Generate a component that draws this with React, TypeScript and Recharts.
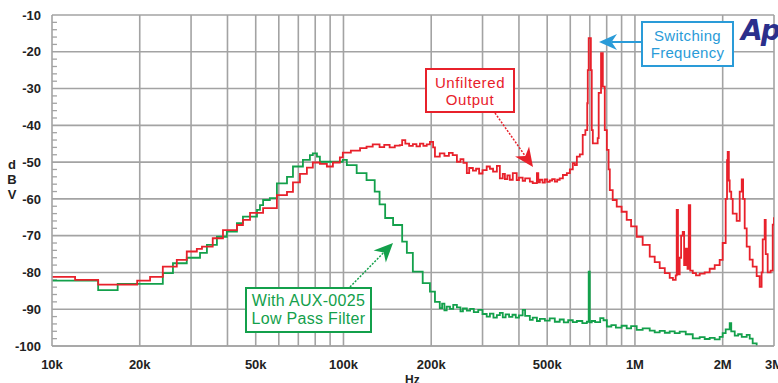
import React from 'react'
import { LineChart, Line, XAxis, YAxis, CartesianGrid, ReferenceLine } from 'recharts'

// frequencies in kHz, levels in dBV
const redFreq = [
  10, 12, 14.4, 19.6, 21.7, 24, 26.8, 29, 31.4, 32.7, 35.6, 38.6, 43.1, 45.2, 47.8, 53, 59.1, 64, 67.1, 70.9,
  74.9, 78.5, 83, 87.7, 92, 97.2, 99.5, 106, 114, 120, 126, 133, 138, 144, 150, 156, 159, 163, 168, 173,
  178, 183, 188, 193, 198, 203, 206, 214, 222, 230, 237, 245, 252, 258, 265, 270, 278, 285, 292, 300,
  310, 318, 326, 336, 344, 352, 358, 365, 372, 381, 393, 400, 412, 420, 436, 446, 461, 466, 472, 482,
  491, 500, 510, 520, 531, 541, 552, 566, 584, 598, 612, 622, 632, 647, 662, 676, 686, 689, 694, 706,
  711, 717, 740, 745, 751, 765, 776, 788, 801, 812, 820, 839, 866, 900, 937, 970, 1014, 1063, 1124, 1169,
  1216, 1266, 1316, 1350, 1380, 1391, 1405, 1424, 1440, 1459, 1475, 1494, 1515, 1530, 1548, 1579, 1620, 1668, 1735, 1805,
  1878, 1953, 2000, 2048, 2070, 2081, 2100, 2114, 2140, 2165, 2234, 2288, 2325, 2350, 2380, 2418, 2476, 2535, 2616, 2679,
  2720, 2744, 2787, 2810, 2854, 2920, 2970, 3000,
]
const redDb = [
  -81.2, -82.0, -83.3, -82.2, -81.2, -78.4, -76.6, -74.3, -73.6, -73.0, -70.7, -68.5, -67.1, -65.7, -63.8, -62.5, -59.0, -58.1, -55.5, -53.2,
  -51.5, -50.1, -50.5, -51.2, -50.1, -48.7, -47.4, -46.9, -46.2, -45.8, -45.2, -45.9, -45.3, -46.0, -45.5, -45.4, -44.0, -45.0, -45.6, -45.1,
  -45.7, -45.0, -45.6, -45.2, -44.5, -46.0, -48.5, -47.6, -48.3, -47.5, -48.1, -49.9, -49.2, -50.2, -53.0, -51.6, -52.3, -51.8, -53.1, -52.2,
  -51.2, -51.8, -52.6, -51.0, -54.4, -53.2, -54.6, -53.6, -54.8, -53.0, -54.9, -54.2, -55.1, -54.4, -55.3, -55.7, -53.0, -55.5, -54.8, -55.6,
  -54.7, -55.4, -55.0, -54.6, -55.3, -54.8, -54.4, -53.5, -53.0, -52.0, -50.3, -50.8, -48.5, -47.9, -42.6, -41.3, -34.0, -25.0, -16.3, -25.0,
  -41.3, -44.9, -44.9, -43.5, -31.2, -20.4, -29.5, -41.3, -46.7, -52.0, -57.6, -60.3, -62.1, -63.5, -65.7, -67.5, -70.3, -72.5, -75.7, -77.2,
  -78.8, -80.2, -81.5, -82.0, -80.8, -63.0, -80.5, -76.0, -70.0, -69.0, -78.0, -73.5, -79.0, -61.7, -79.5, -80.2, -80.8, -80.3, -80.0, -79.0,
  -78.0, -76.6, -72.0, -60.0, -49.5, -47.2, -55.0, -58.0, -60.0, -64.0, -66.0, -58.0, -54.7, -60.0, -68.0, -73.0, -76.5, -78.4, -81.0, -83.9,
  -80.0, -71.0, -65.7, -75.0, -80.0, -79.5, -67.0, -65.0,
]

const greenFreq = [
  10, 14.4, 16.8, 24, 26, 29, 32.2, 34, 36.8, 39.8, 43.1, 45.2, 50.5, 51.7, 53, 55.9, 59.1, 64, 67.1, 72.6,
  76.7, 78.5, 81.1, 83, 99.5, 102.7, 111, 120, 128, 133, 139, 148, 159, 165, 173, 187, 198, 206, 214, 218,
  222, 226, 232, 238, 245, 252, 257, 265, 272, 280, 290, 300, 310, 318, 327, 336, 344, 352, 360, 370,
  380, 390, 400, 412, 420, 436, 446, 461, 472, 491, 510, 531, 552, 570, 590, 612, 632, 660, 684, 694,
  700, 711, 730, 760, 780, 801, 830, 860, 900, 937, 970, 1014, 1063, 1124, 1169, 1216, 1266, 1316, 1369, 1424,
  1494, 1579, 1668, 1735, 1805, 1878, 1953, 2000, 2048, 2114, 2140, 2200, 2260, 2325, 2418, 2476, 2535, 2616,
]
const greenDb = [
  -82.2, -84.8, -83.1, -80.2, -77.5, -76.0, -74.7, -72.5, -70.3, -68.9, -66.6, -64.8, -63.0, -61.7, -60.3, -59.8, -55.8, -54.0, -51.2, -49.4,
  -48.1, -47.6, -48.5, -49.9, -49.4, -50.8, -53.0, -54.9, -58.0, -61.5, -65.2, -67.1, -71.6, -74.7, -79.8, -82.9, -85.2, -88.0, -89.7, -88.5,
  -90.3, -89.3, -89.9, -88.8, -89.5, -90.6, -89.8, -90.4, -89.9, -90.8, -90.2, -91.3, -92.0, -91.2, -92.3, -91.6, -91.0, -92.2, -91.4, -92.1,
  -91.5, -92.3, -91.7, -90.2, -91.8, -92.9, -92.3, -93.2, -92.6, -93.1, -92.5, -93.4, -92.8, -93.6, -93.0, -93.5, -93.2, -93.8, -93.4, -79.8,
  -93.6, -93.2, -93.5, -92.4, -93.0, -94.7, -94.3, -95.0, -94.5, -95.2, -94.6, -95.6, -95.2, -95.8, -96.3, -95.9, -96.4, -96.0, -96.5, -96.1,
  -96.8, -97.9, -97.6, -98.1, -97.8, -98.2, -97.5, -96.5, -95.5, -93.8, -96.0, -97.2, -96.8, -97.5, -97.0, -98.0, -99.3, -100,
]

const xTicks = [10, 20, 50, 100, 200, 500, 1000, 2000, 3000]
const xTickLabels = ['10k', '20k', '50k', '100k', '200k', '500k', '1M', '2M', '3M']
const gridFreq = [
  20, 30, 40, 50, 60, 70, 80, 90, 100, 200, 300, 400, 500, 600, 700, 800, 900, 1000, 2000, 3000,
]
const yTicks = [-100, -90, -80, -70, -60, -50, -40, -30, -20, -10]
const yMinor = yTicks.flatMap((t) => [t + 2, t + 4, t + 6, t + 8]).filter((t) => t < -10)

const redData = redFreq.map((f, i) => ({ f, v: redDb[i] }))
const greenData = greenFreq.map((f, i) => ({ f, v: greenDb[i] }))

const font = '"Liberation Sans", Arial, sans-serif'
const gridColor = '#a3a3a3'
const RED = '#e8212b'
const GREEN = '#13a04b'
const BLUE = '#2a9bd8'

function Arrow({ x1, y1, x2, y2, color, head, dashed }: any) {
  const dx = x2 - x1
  const dy = y2 - y1
  const len = Math.sqrt(dx * dx + dy * dy)
  const ux = dx / len
  const uy = dy / len
  const px = -uy
  const py = ux
  const bx = x2 - ux * head
  const by = y2 - uy * head
  const nx = x2 - ux * head * 0.7
  const ny = y2 - uy * head * 0.7
  const w = head * 0.45
  const pts = `${x2},${y2} ${bx + px * w},${by + py * w} ${nx},${ny} ${bx - px * w},${by - py * w}`
  return (
    <g>
      <line x1={x1} y1={y1} x2={nx} y2={ny} stroke={color} strokeWidth={dashed ? 1.5 : 2}
        strokeDasharray={dashed ? '2 1.5' : undefined} />
      <polygon points={pts} fill={color} />
    </g>
  )
}

function NoteBox({ left, top, width, height, color, lines, size, lh, spacing }: any) {
  return (
    <div style={{
      position: 'absolute', left, top, width, height, boxSizing: 'border-box',
      border: `2px solid ${color}`, background: '#fff', color, fontFamily: font,
      fontSize: size, lineHeight: `${lh}px`, letterSpacing: spacing, textAlign: 'center',
      display: 'flex', flexDirection: 'column', justifyContent: 'center', whiteSpace: 'nowrap',
    }}>
      {lines.map((l: string) => <div key={l}>{l}</div>)}
    </div>
  )
}

export default function App() {
  return (
    <div style={{ position: 'absolute', left: 0, top: 0, width: 778, height: 383, overflow: 'hidden', background: '#fff' }}>
      <LineChart width={778} height={383} margin={{ top: 15, right: 4, bottom: 0, left: 0 }}>
        <CartesianGrid yAxisId="db" vertical={false} stroke={gridColor} strokeWidth={1.6} />
        {gridFreq.map((f) => (
          <ReferenceLine key={f} x={f} yAxisId="db" stroke={gridColor} strokeWidth={1.6} />
        ))}
        {yMinor.map((t) => (
          <ReferenceLine
            key={`m${t}`}
            yAxisId="db"
            segment={[{ x: 10, y: t }, { x: 10.4, y: t }]}
            stroke={gridColor}
            strokeWidth={1.3}
          />
        ))}
        <XAxis
          dataKey="f"
          type="number"
          scale="log"
          domain={[10, 3000]}
          allowDataOverflow
          ticks={xTicks}
          tickFormatter={(v: number) => xTickLabels[xTicks.indexOf(v)]}
          interval={0}
          height={37}
          tickLine={false}
          tickMargin={8}
          axisLine={{ stroke: gridColor, strokeWidth: 1.6 }}
          tick={{ fill: '#222', fontSize: 13, fontWeight: 700, fontFamily: font }}
        />
        <YAxis
          yAxisId="db"
          type="number"
          domain={[-100, -10]}
          allowDataOverflow
          ticks={yTicks}
          interval={0}
          width={52}
          tickLine={false}
          tickMargin={5}
          axisLine={{ stroke: gridColor, strokeWidth: 1.6 }}
          tick={{ fill: '#222', fontSize: 13, fontWeight: 700, fontFamily: font }}
        />
        <Line
          yAxisId="db"
          data={greenData}
          dataKey="v"
          type="stepAfter"
          stroke={GREEN}
          strokeWidth={1.8}
          dot={false}
          isAnimationActive={false}
        />
        <Line
          yAxisId="db"
          data={redData}
          dataKey="v"
          type="stepAfter"
          stroke={RED}
          strokeWidth={1.8}
          dot={false}
          isAnimationActive={false}
        />
      </LineChart>

      <svg width={778} height={383} style={{ position: 'absolute', left: 0, top: 0, pointerEvents: 'none' }}>
        <Arrow x1={641} y1={42} x2={599} y2={42} color={BLUE} head={18} />
        <Arrow x1={495} y1={113} x2={533} y2={167} color={RED} head={19} dashed />
        <Arrow x1={350} y1={287} x2={393} y2={243} color={GREEN} head={19} dashed />
      </svg>

      <NoteBox left={641} top={21} width={93} height={46} color={BLUE} size={15} lh={17} spacing={0.3}
        lines={['Switching', 'Frequency']} />
      <NoteBox left={425} top={68} width={90} height={45} color={RED} size={15} lh={17} spacing={0.6}
        lines={['Unfiltered', 'Output']} />
      <NoteBox left={245} top={287} width={127} height={46} color={GREEN} size={16} lh={18} spacing={0.3}
        lines={['With AUX-0025', 'Low Pass Filter']} />

      <div style={{
        position: 'absolute', left: 5, top: 157, width: 14, textAlign: 'center', fontFamily: font,
        fontSize: 13, fontWeight: 700, lineHeight: '15px', color: '#222',
      }}>
        <div>d</div><div>B</div><div>V</div>
      </div>
      <div style={{
        position: 'absolute', left: 405, top: 374, fontFamily: font, fontSize: 12, fontWeight: 700,
        lineHeight: '12px', color: '#222',
      }}>Hz</div>
      <div style={{
        position: 'absolute', left: 741, top: 16, fontFamily: '"DejaVu Sans", sans-serif', fontSize: 28,
        fontWeight: 700, fontStyle: 'italic', color: '#2b2f8c', letterSpacing: -2, lineHeight: '30px',
      }}>Ap</div>
    </div>
  )
}
